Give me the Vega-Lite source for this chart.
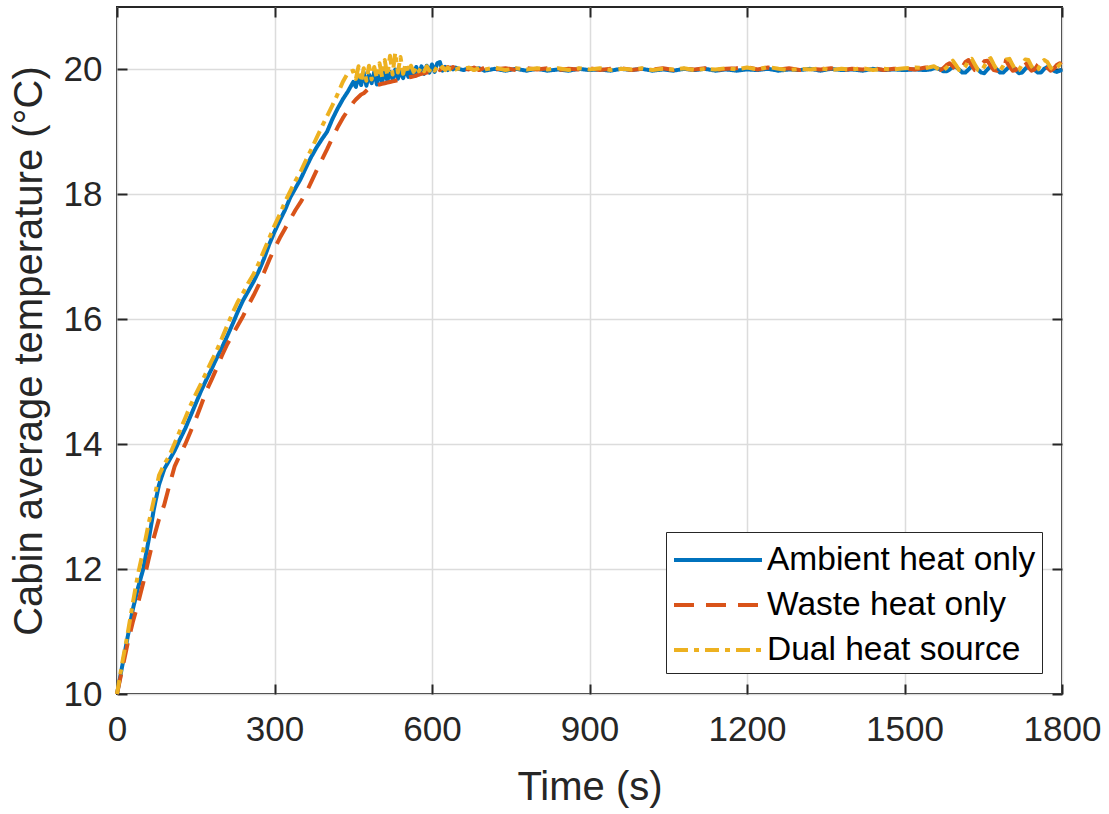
{
  "$schema": "https://vega.github.io/schema/vega-lite/v6.json",
  "width": 945,
  "height": 687,
  "autosize": "none",
  "padding": {"left": 117, "top": 7, "right": 47, "bottom": 120},
  "background": "white",
  "config": {
    "view": {"stroke": "#262626", "strokeWidth": 2},
    "font": "Liberation Sans"
  },
  "data": {
    "values": [
      {"t": 0, "a": 10.0, "w": 10.0, "d": 10.0},
      {"t": 10, "a": 10.45, "w": 10.4, "d": 10.5},
      {"t": 20, "a": 10.9, "w": 10.8, "d": 10.95},
      {"t": 30, "a": 11.35, "w": 11.15, "d": 11.45},
      {"t": 40, "a": 11.7, "w": 11.45, "d": 11.92},
      {"t": 50, "a": 12.0, "w": 11.78, "d": 12.3},
      {"t": 60, "a": 12.45, "w": 12.15, "d": 12.72},
      {"t": 70, "a": 12.95, "w": 12.5, "d": 13.1},
      {"t": 80, "a": 13.35, "w": 12.8, "d": 13.5},
      {"t": 90, "a": 13.6, "w": 13.03, "d": 13.68},
      {"t": 100, "a": 13.75, "w": 13.35, "d": 13.82},
      {"t": 110, "a": 13.9, "w": 13.65, "d": 14.02},
      {"t": 120, "a": 14.08, "w": 13.83, "d": 14.22},
      {"t": 130, "a": 14.25, "w": 14.0, "d": 14.42},
      {"t": 140, "a": 14.45, "w": 14.2, "d": 14.62},
      {"t": 150, "a": 14.65, "w": 14.4, "d": 14.8},
      {"t": 160, "a": 14.85, "w": 14.62, "d": 14.97},
      {"t": 170, "a": 15.03, "w": 14.85, "d": 15.15},
      {"t": 180, "a": 15.2, "w": 15.03, "d": 15.33},
      {"t": 190, "a": 15.38, "w": 15.22, "d": 15.5},
      {"t": 200, "a": 15.55, "w": 15.42, "d": 15.7},
      {"t": 210, "a": 15.73, "w": 15.6, "d": 15.9},
      {"t": 220, "a": 15.92, "w": 15.75, "d": 16.1},
      {"t": 230, "a": 16.12, "w": 15.9, "d": 16.28},
      {"t": 240, "a": 16.3, "w": 16.05, "d": 16.42},
      {"t": 250, "a": 16.45, "w": 16.22, "d": 16.58},
      {"t": 260, "a": 16.6, "w": 16.38, "d": 16.72},
      {"t": 270, "a": 16.77, "w": 16.55, "d": 16.9},
      {"t": 280, "a": 16.97, "w": 16.75, "d": 17.1},
      {"t": 290, "a": 17.2, "w": 16.95, "d": 17.3},
      {"t": 300, "a": 17.4, "w": 17.13, "d": 17.5},
      {"t": 310, "a": 17.58, "w": 17.3, "d": 17.68},
      {"t": 320, "a": 17.75, "w": 17.45, "d": 17.88},
      {"t": 330, "a": 17.95, "w": 17.6, "d": 18.05},
      {"t": 340, "a": 18.1, "w": 17.75, "d": 18.22},
      {"t": 350, "a": 18.25, "w": 17.88, "d": 18.37},
      {"t": 360, "a": 18.43, "w": 18.02, "d": 18.55},
      {"t": 370, "a": 18.6, "w": 18.2, "d": 18.72},
      {"t": 380, "a": 18.75, "w": 18.38, "d": 18.9},
      {"t": 390, "a": 18.88, "w": 18.55, "d": 19.08},
      {"t": 400, "a": 19.0, "w": 18.72, "d": 19.25},
      {"t": 410, "a": 19.2, "w": 18.9, "d": 19.42},
      {"t": 420, "a": 19.37, "w": 19.07, "d": 19.6},
      {"t": 430, "a": 19.52, "w": 19.22, "d": 19.8},
      {"t": 440, "a": 19.65, "w": 19.35, "d": 19.95},
      {"t": 450, "a": 19.8, "w": 19.47, "d": 19.98},
      {"t": 455, "a": 19.72, "w": 19.52, "d": 19.85},
      {"t": 460, "a": 19.9, "w": 19.56, "d": 20.05},
      {"t": 465, "a": 19.75, "w": 19.6, "d": 19.8},
      {"t": 470, "a": 19.95, "w": 19.62, "d": 20.02},
      {"t": 475, "a": 19.74, "w": 19.66, "d": 19.82},
      {"t": 480, "a": 19.92, "w": 19.7, "d": 20.06},
      {"t": 485, "a": 19.78, "w": 19.72, "d": 19.84},
      {"t": 490, "a": 19.96, "w": 19.73, "d": 20.04},
      {"t": 495, "a": 19.76, "w": 19.75, "d": 19.86},
      {"t": 500, "a": 19.94, "w": 19.76, "d": 20.1},
      {"t": 505, "a": 19.8, "w": 19.77, "d": 19.88},
      {"t": 510, "a": 19.98, "w": 19.78, "d": 20.15},
      {"t": 515, "a": 19.82, "w": 19.79, "d": 19.9},
      {"t": 520, "a": 19.96, "w": 19.8, "d": 20.22},
      {"t": 525, "a": 19.84, "w": 19.81, "d": 19.92},
      {"t": 530, "a": 20.0, "w": 19.82, "d": 20.27},
      {"t": 535, "a": 19.85, "w": 19.83, "d": 19.95},
      {"t": 540, "a": 19.98, "w": 19.84, "d": 20.2},
      {"t": 545, "a": 19.86, "w": 19.85, "d": 19.93},
      {"t": 550, "a": 20.02, "w": 19.86, "d": 20.1},
      {"t": 555, "a": 19.88, "w": 19.87, "d": 19.95},
      {"t": 560, "a": 20.0, "w": 19.88, "d": 20.06},
      {"t": 565, "a": 19.9, "w": 19.89, "d": 19.96},
      {"t": 570, "a": 20.04, "w": 19.9, "d": 20.05},
      {"t": 575, "a": 19.92, "w": 19.92, "d": 19.97},
      {"t": 580, "a": 20.05, "w": 19.93, "d": 20.04},
      {"t": 585, "a": 19.93, "w": 19.94, "d": 19.97},
      {"t": 590, "a": 20.06, "w": 19.95, "d": 20.05},
      {"t": 595, "a": 19.95, "w": 19.96, "d": 19.98},
      {"t": 600, "a": 20.08, "w": 19.97, "d": 20.04},
      {"t": 605, "a": 19.96, "w": 19.98, "d": 19.98},
      {"t": 610, "a": 20.1, "w": 20.02, "d": 20.05},
      {"t": 615, "a": 20.12, "w": 19.99, "d": 20.0},
      {"t": 620, "a": 19.98, "w": 20.03, "d": 20.04},
      {"t": 625, "a": 20.04, "w": 20.0, "d": 19.99},
      {"t": 630, "a": 19.99, "w": 20.04, "d": 20.03},
      {"t": 635, "a": 20.03, "w": 20.01, "d": 20.0},
      {"t": 640, "a": 20.0, "w": 20.04, "d": 20.03},
      {"t": 645, "a": 20.03, "w": 20.01, "d": 20.0},
      {"t": 650, "a": 20.01, "w": 20.03, "d": 20.02},
      {"t": 660, "a": 19.99, "w": 20.02, "d": 20.01},
      {"t": 670, "a": 20.02, "w": 20.0, "d": 20.03},
      {"t": 680, "a": 20.0, "w": 20.03, "d": 19.99},
      {"t": 690, "a": 20.02, "w": 19.99, "d": 20.02},
      {"t": 700, "a": 19.98, "w": 20.03, "d": 20.0},
      {"t": 720, "a": 20.01, "w": 20.0, "d": 20.03},
      {"t": 740, "a": 19.98, "w": 20.02, "d": 19.99},
      {"t": 760, "a": 20.01, "w": 19.99, "d": 20.02},
      {"t": 780, "a": 19.98, "w": 20.02, "d": 20.0},
      {"t": 800, "a": 20.01, "w": 20.0, "d": 20.02},
      {"t": 820, "a": 19.98, "w": 20.02, "d": 20.0},
      {"t": 840, "a": 20.0, "w": 19.99, "d": 20.02},
      {"t": 860, "a": 19.98, "w": 20.01, "d": 19.99},
      {"t": 880, "a": 20.01, "w": 20.0, "d": 20.02},
      {"t": 900, "a": 19.99, "w": 20.02, "d": 20.0},
      {"t": 920, "a": 20.0, "w": 19.99, "d": 20.02},
      {"t": 940, "a": 19.98, "w": 20.01, "d": 19.99},
      {"t": 960, "a": 20.01, "w": 20.02, "d": 20.01},
      {"t": 980, "a": 19.99, "w": 19.99, "d": 20.0},
      {"t": 1000, "a": 20.01, "w": 20.01, "d": 20.02},
      {"t": 1020, "a": 19.98, "w": 20.0, "d": 19.99},
      {"t": 1040, "a": 20.0, "w": 20.02, "d": 20.01},
      {"t": 1060, "a": 19.98, "w": 19.99, "d": 20.0},
      {"t": 1080, "a": 20.01, "w": 20.01, "d": 20.02},
      {"t": 1100, "a": 19.99, "w": 20.0, "d": 19.99},
      {"t": 1120, "a": 20.01, "w": 20.02, "d": 20.01},
      {"t": 1140, "a": 19.98, "w": 19.99, "d": 20.0},
      {"t": 1160, "a": 20.0, "w": 20.01, "d": 20.02},
      {"t": 1180, "a": 19.98, "w": 20.02, "d": 20.0},
      {"t": 1200, "a": 20.0, "w": 20.04, "d": 20.03},
      {"t": 1220, "a": 19.99, "w": 20.0, "d": 20.0},
      {"t": 1240, "a": 20.01, "w": 20.03, "d": 20.04},
      {"t": 1260, "a": 19.98, "w": 20.0, "d": 20.01},
      {"t": 1280, "a": 20.0, "w": 20.02, "d": 19.99},
      {"t": 1300, "a": 19.99, "w": 19.99, "d": 20.01},
      {"t": 1320, "a": 20.01, "w": 20.01, "d": 20.0},
      {"t": 1340, "a": 19.98, "w": 20.0, "d": 20.02},
      {"t": 1360, "a": 20.01, "w": 20.02, "d": 19.99},
      {"t": 1380, "a": 19.99, "w": 19.99, "d": 20.01},
      {"t": 1400, "a": 20.0, "w": 20.01, "d": 20.0},
      {"t": 1420, "a": 19.98, "w": 20.0, "d": 20.02},
      {"t": 1440, "a": 20.01, "w": 20.02, "d": 19.99},
      {"t": 1460, "a": 19.99, "w": 19.99, "d": 20.01},
      {"t": 1480, "a": 20.0, "w": 20.01, "d": 20.0},
      {"t": 1500, "a": 19.99, "w": 20.02, "d": 20.02},
      {"t": 1520, "a": 20.0, "w": 20.0, "d": 20.03},
      {"t": 1540, "a": 19.99, "w": 20.03, "d": 20.02},
      {"t": 1550, "a": 20.0, "w": 20.03, "d": 20.04},
      {"t": 1556, "a": 20.02, "w": 20.02, "d": 20.05},
      {"t": 1562, "a": 20.02, "w": 19.99, "d": 20.02},
      {"t": 1568, "a": 20.0, "w": 19.99, "d": 19.99},
      {"t": 1574, "a": 19.97, "w": 20.02, "d": 19.99},
      {"t": 1580, "a": 19.97, "w": 20.07, "d": 20.03},
      {"t": 1586, "a": 20.0, "w": 20.1, "d": 20.1},
      {"t": 1592, "a": 20.04, "w": 20.05, "d": 20.14},
      {"t": 1598, "a": 20.04, "w": 19.99, "d": 20.07},
      {"t": 1604, "a": 20.0, "w": 19.98, "d": 19.99},
      {"t": 1610, "a": 19.95, "w": 20.04, "d": 19.98},
      {"t": 1616, "a": 19.95, "w": 20.12, "d": 20.05},
      {"t": 1622, "a": 20.0, "w": 20.15, "d": 20.14},
      {"t": 1628, "a": 20.05, "w": 20.07, "d": 20.17},
      {"t": 1634, "a": 20.05, "w": 19.99, "d": 20.08},
      {"t": 1640, "a": 20.0, "w": 19.98, "d": 19.99},
      {"t": 1646, "a": 19.95, "w": 20.05, "d": 19.97},
      {"t": 1652, "a": 19.94, "w": 20.13, "d": 20.05},
      {"t": 1658, "a": 20.0, "w": 20.14, "d": 20.15},
      {"t": 1664, "a": 20.05, "w": 20.06, "d": 20.18},
      {"t": 1670, "a": 20.05, "w": 19.99, "d": 20.08},
      {"t": 1676, "a": 20.0, "w": 19.98, "d": 19.99},
      {"t": 1682, "a": 19.95, "w": 20.06, "d": 19.98},
      {"t": 1688, "a": 19.95, "w": 20.14, "d": 20.06},
      {"t": 1694, "a": 20.0, "w": 20.13, "d": 20.16},
      {"t": 1700, "a": 20.05, "w": 20.05, "d": 20.17},
      {"t": 1706, "a": 20.04, "w": 19.98, "d": 20.07},
      {"t": 1712, "a": 19.99, "w": 19.99, "d": 19.98},
      {"t": 1718, "a": 19.94, "w": 20.07, "d": 19.99},
      {"t": 1724, "a": 19.95, "w": 20.14, "d": 20.08},
      {"t": 1730, "a": 20.01, "w": 20.12, "d": 20.16},
      {"t": 1736, "a": 20.05, "w": 20.04, "d": 20.15},
      {"t": 1742, "a": 20.04, "w": 19.98, "d": 20.05},
      {"t": 1748, "a": 19.99, "w": 20.0, "d": 19.98},
      {"t": 1754, "a": 19.95, "w": 20.08, "d": 20.0},
      {"t": 1760, "a": 19.95, "w": 20.13, "d": 20.09},
      {"t": 1766, "a": 20.01, "w": 20.1, "d": 20.15},
      {"t": 1772, "a": 20.04, "w": 20.03, "d": 20.12},
      {"t": 1778, "a": 20.03, "w": 19.98, "d": 20.03},
      {"t": 1784, "a": 19.98, "w": 20.01, "d": 19.99},
      {"t": 1790, "a": 19.96, "w": 20.07, "d": 20.03},
      {"t": 1796, "a": 19.98, "w": 20.1, "d": 20.08},
      {"t": 1800, "a": 20.0, "w": 20.06, "d": 20.05}
    ]
  },
  "transform": [{"fold": ["a", "w", "d"], "as": ["s", "v"]}],
  "resolve": {"axis": {"x": "independent", "y": "independent"}},
  "layer": [
    {
      "mark": {"type": "line", "strokeWidth": 4, "strokeCap": "butt", "strokeJoin": "round"},
      "encoding": {
        "x": {
          "field": "t", "type": "quantitative",
          "scale": {"domain": [0, 1800], "nice": false, "zero": false},
          "axis": {
            "orient": "bottom", "values": [0, 300, 600, 900, 1200, 1500, 1800],
            "format": "d",
            "title": "Time (s)", "domain": false,
            "tickSize": -10, "tickWidth": 2, "tickColor": "#262626",
            "grid": true, "gridColor": "#dcdcdc", "gridWidth": 1.5,
            "labelFontSize": 35, "labelColor": "#262626", "labelPadding": 28,
            "labelFlush": false,
            "titleFontSize": 40, "titleFontWeight": "normal", "titleColor": "#262626", "titlePadding": 20
          }
        },
        "y": {
          "field": "v", "type": "quantitative",
          "scale": {"domain": [10, 21], "nice": false, "zero": false},
          "axis": {
            "orient": "left", "values": [10, 12, 14, 16, 18, 20],
            "title": "Cabin average temperature (°C)", "domain": false,
            "tickSize": -10, "tickWidth": 2, "tickColor": "#262626",
            "grid": true, "gridColor": "#dcdcdc", "gridWidth": 1.5,
            "labelFontSize": 35, "labelColor": "#262626", "labelPadding": 25,
            "labelFlush": false,
            "titleFontSize": 40, "titleFontWeight": "normal", "titleColor": "#262626", "titlePadding": 14
          }
        },
        "color": {
          "field": "s", "type": "nominal",
          "scale": {"domain": ["a", "w", "d"], "range": ["#0072BD", "#D95319", "#EDB120"]},
          "legend": {
            "title": null, "orient": "none", "legendX": 549, "legendY": 525,
            "labelExpr": "datum.value == 'a' ? 'Ambient heat only' : datum.value == 'w' ? 'Waste heat only' : 'Dual heat source'",
            "symbolType": "M-1,0H3.4", "symbolSize": 1600, "symbolStrokeWidth": 4,
            "labelFontSize": 33.5, "labelColor": "black", "labelOffset": 51,
            "strokeColor": "#262626", "fillColor": "white", "padding": 6, "rowPadding": 6, "labelLimit": 400
          }
        },
        "strokeDash": {
          "field": "s", "type": "nominal",
          "scale": {"domain": ["a", "w", "d"], "range": [[1, 0], [20, 12], [14, 6, 5, 6]]},
          "legend": {
            "title": null, "orient": "none", "legendX": 549, "legendY": 525,
            "labelExpr": "datum.value == 'a' ? 'Ambient heat only' : datum.value == 'w' ? 'Waste heat only' : 'Dual heat source'",
            "symbolType": "M-1,0H3.4", "symbolSize": 1600, "symbolStrokeWidth": 4,
            "labelFontSize": 33.5, "labelColor": "black", "labelOffset": 51,
            "strokeColor": "#262626", "fillColor": "white", "padding": 6, "rowPadding": 6, "labelLimit": 400
          }
        }
      }
    },
    {
      "mark": {"type": "line", "opacity": 0},
      "encoding": {
        "x": {
          "field": "t", "type": "quantitative",
          "axis": {
            "orient": "top", "values": [0, 300, 600, 900, 1200, 1500, 1800],
            "title": null, "labels": false, "domain": false, "grid": false,
            "tickSize": -10, "tickWidth": 2, "tickColor": "#262626"
          }
        },
        "y": {
          "field": "v", "type": "quantitative",
          "axis": {
            "orient": "right", "values": [10, 12, 14, 16, 18, 20],
            "title": null, "labels": false, "domain": false, "grid": false,
            "tickSize": -10, "tickWidth": 2, "tickColor": "#262626"
          }
        }
      }
    }
  ]
}
